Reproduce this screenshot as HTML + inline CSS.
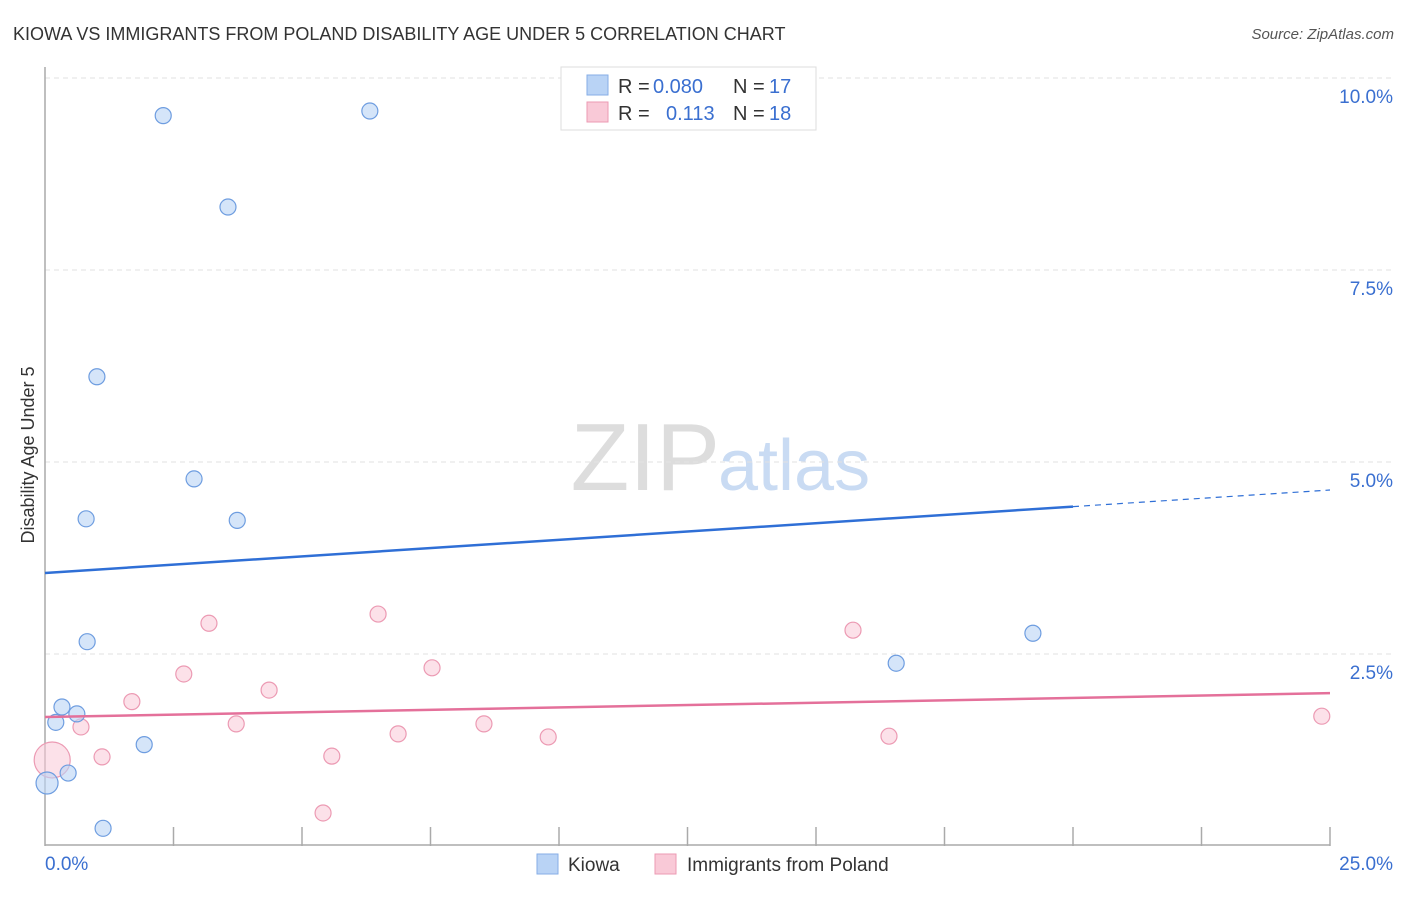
<!DOCTYPE html>
<html><head><meta charset="utf-8">
<style>
body{margin:0;background:#fff;font-family:"Liberation Sans",sans-serif;}
svg text{font-family:"Liberation Sans",sans-serif;}
</style></head>
<body>
<svg id="chart" width="1406" height="892" viewBox="0 0 1406 892" xmlns="http://www.w3.org/2000/svg">
<text x="13" y="40" font-size="18" fill="#333">KIOWA VS IMMIGRANTS FROM POLAND DISABILITY AGE UNDER 5 CORRELATION CHART</text>
<text x="1394" y="39" font-size="15" fill="#555" text-anchor="end" font-style="italic">Source: ZipAtlas.com</text>
<text x="720" y="490" font-size="96" text-anchor="end" fill="#ddd" font-family="Liberation Serif">ZIP</text>
<text x="718" y="490" font-size="72" fill="#c9dbf3">atlas</text>
<g id="grid"></g>
<g id="axes"></g>
<g id="marks"></g>
<text transform="translate(34,455) rotate(-90)" font-size="18" fill="#333" text-anchor="middle">Disability Age Under 5</text>
<g>
<rect x="561" y="67" width="255" height="63" fill="#fff" stroke="#ddd"/>
<rect x="587" y="75" width="21" height="20" fill="#b9d3f5" stroke="#86aee6"/>
<text x="618" y="93" font-size="20" fill="#333">R =</text>
<text x="653" y="93" font-size="20" fill="#3a6fd0">0.080</text>
<text x="733" y="93" font-size="20" fill="#333">N =</text>
<text x="769" y="93" font-size="20" fill="#3a6fd0">17</text>
<rect x="587" y="102" width="21" height="20" fill="#f9c9d7" stroke="#ec9ab3"/>
<text x="618" y="120" font-size="20" fill="#333">R =</text>
<text x="666" y="120" font-size="20" fill="#3a6fd0">0.113</text>
<text x="733" y="120" font-size="20" fill="#333">N =</text>
<text x="769" y="120" font-size="20" fill="#3a6fd0">18</text>
</g>
<g>
<rect x="537" y="854" width="21" height="20" fill="#b9d3f5" stroke="#86aee6"/>
<text x="568" y="871" font-size="19" fill="#333">Kiowa</text>
<rect x="655" y="854" width="21" height="20" fill="#f9c9d7" stroke="#ec9ab3"/>
<text x="687" y="871" font-size="19" fill="#333">Immigrants from Poland</text>
</g>
</svg>
<script>
const kiowaX=[2.30,6.32,3.56,1.01,2.90,0.80,3.74,0.82,0.33,0.21,0.62,1.93,0.45,0.04,1.13,16.56,19.22];
const kiowaY=[9.51,9.57,8.32,6.11,4.78,4.26,4.24,2.66,1.81,1.61,1.72,1.32,0.95,0.82,0.23,2.38,2.77];
const kiowaR=[8,8,8,8,8,8,8,8,8,8,8,8,8,11,8,8,8];
const polandX=[0.14,0.70,1.11,1.69,2.70,3.19,3.72,4.36,5.58,5.41,6.48,6.87,7.53,8.54,9.79,15.72,16.42,24.84];
const polandY=[1.12,1.55,1.16,1.88,2.24,2.90,1.59,2.03,1.17,0.43,3.02,1.46,2.32,1.59,1.42,2.81,1.43,1.69];
const polandR=[18,8,8,8,8,8,8,8,8,8,8,8,8,8,8,8,8,8];
const kiowaTrend=[3.555,4.635];
const polandTrend=[1.68,1.99];
const yTicks=[2.5,5.0,7.5,10.0];
const xTickLabels=["0.0%","25.0%"];
const NS="http://www.w3.org/2000/svg";
const X0=45,X1=1330,Y0=846,YS=76.8;
const sx=v=>X0+v/25*(X1-X0);
const sy=v=>Y0-v*YS;
function mk(tag,attrs,parent){const e=document.createElementNS(NS,tag);for(const k in attrs)e.setAttribute(k,attrs[k]);parent.appendChild(e);return e;}
const grid=document.getElementById('grid'),axes=document.getElementById('axes'),marks=document.getElementById('marks');
yTicks.forEach(t=>{
 const l=mk('line',{x1:X0,x2:1394,y1:sy(t),y2:sy(t),stroke:'#e2e2e2','stroke-dasharray':'5,4'},grid);
 
 
 const tx=mk('text',{x:1393,y:sy(t)+25,'font-size':19,fill:'#3a6fd0','text-anchor':'end'},axes);
 tx.textContent=t.toFixed(1)+'%';
 
 
});
const ya=mk('line',{x1:X0,x2:X0,y1:67,y2:Y0,stroke:'#aaa','stroke-width':1.5},axes);


const xa=mk('line',{x1:X0,x2:X1,y1:Y0-1,y2:Y0-1,stroke:'#aaa','stroke-width':1.5},axes);


for(let i=1;i<=10;i++){
 const tk=mk('line',{x1:sx(i*2.5),x2:sx(i*2.5),y1:Y0-19,y2:Y0,stroke:'#aaa','stroke-width':1.5},axes);
 
 
}
const xl0=mk('text',{x:X0,y:870,'font-size':19,fill:'#3a6fd0'},axes);xl0.textContent=xTickLabels[0];


const xl1=mk('text',{x:1393,y:870,'font-size':19,fill:'#3a6fd0','text-anchor':'end'},axes);xl1.textContent=xTickLabels[1];


polandX.forEach((v,i)=>{
 const c=mk('circle',{cx:sx(v),cy:sy(polandY[i]),r:polandR[i],fill:'rgba(249,201,215,0.55)',stroke:'#ec9ab3','stroke-width':1.2},marks);
 
 
});
kiowaX.forEach((v,i)=>{
 const c=mk('circle',{cx:sx(v),cy:sy(kiowaY[i]),r:kiowaR[i],fill:'rgba(185,211,245,0.6)',stroke:'#6e9de0','stroke-width':1.2},marks);
 
 
});
const ky=x=>kiowaTrend[0]+(kiowaTrend[1]-kiowaTrend[0])*x/25;
const kt=mk('line',{x1:sx(0),y1:sy(ky(0)),x2:sx(20),y2:sy(ky(20)),stroke:'#2f6fd6','stroke-width':2.5},marks);


const kd=mk('line',{x1:sx(20),y1:sy(ky(20)),x2:sx(25),y2:sy(ky(25)),stroke:'#2f6fd6','stroke-width':1.2,'stroke-dasharray':'6,5'},marks);


const pt=mk('line',{x1:sx(0),y1:sy(polandTrend[0]),x2:sx(25),y2:sy(polandTrend[1]),stroke:'#e4709a','stroke-width':2.5},marks);


</script>
</body></html>
